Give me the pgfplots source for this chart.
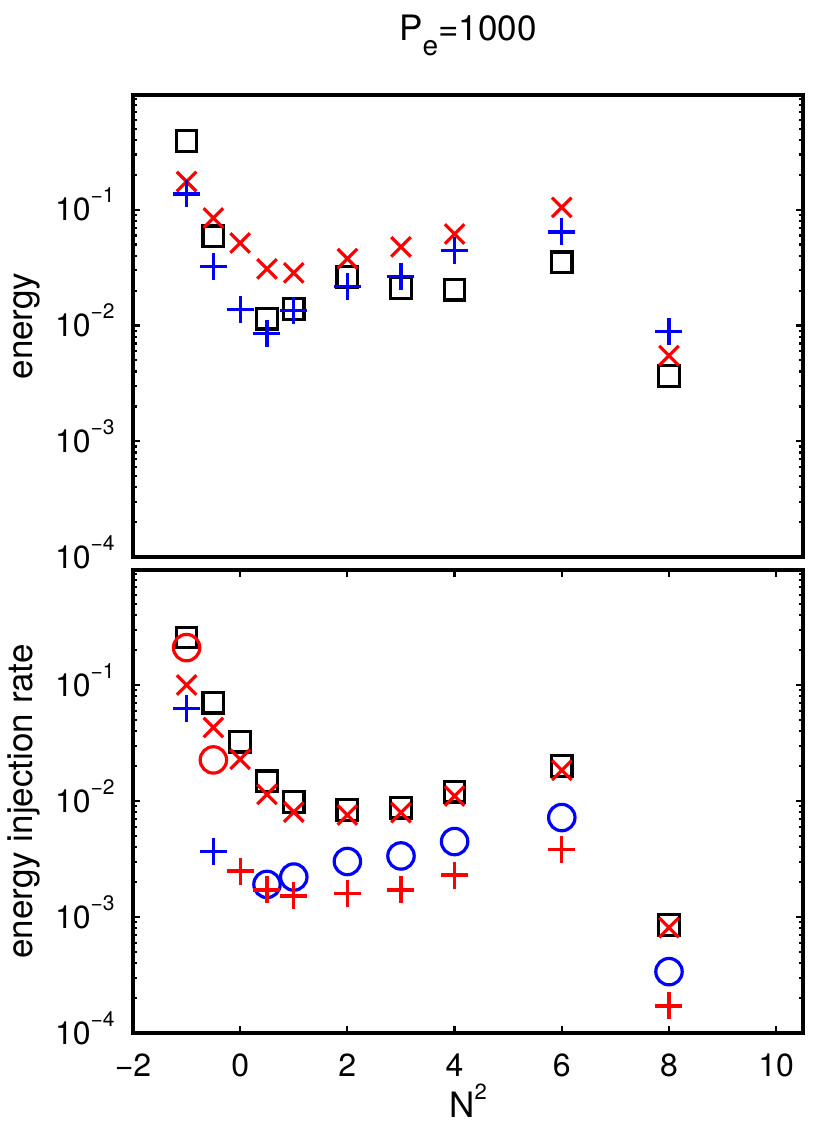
\documentclass[border=0pt]{standalone}
\usepackage{pgfplots}
\pgfplotsset{compat=1.18}
\usepackage{fontspec}
\setmainfont{TeX Gyre Heros}
\newcommand{\tfont}{\fontsize{16}{16}\selectfont}
\newcommand{\lfont}{\fontsize{17.5}{17.5}\selectfont}
\newcommand{\sfont}{\fontsize{10.5}{10.5}\selectfont}
\newcommand{\tl}[1]{10\raisebox{9pt}{\sfont #1}}
\pgfplotsset{
  myaxisstyle/.style={
    width=335pt, scale only axis,
    xmin=-2, xmax=10.5,
    ymin=1e-4, ymax=0.98,
    ytick={1e-4,1e-3,1e-2,1e-1},
    yticklabels={\tl{−4},\tl{−3},\tl{−2},\tl{−1}},
    minor ytick={2e-4,3e-4,4e-4,5e-4,6e-4,7e-4,8e-4,9e-4,
                 2e-3,3e-3,4e-3,5e-3,6e-3,7e-3,8e-3,9e-3,
                 2e-2,3e-2,4e-2,5e-2,6e-2,7e-2,8e-2,9e-2,
                 0.2,0.3,0.4,0.5,0.6,0.7,0.8,0.9},
    tick align=inside,
    major tick length=3.5pt, minor tick length=2pt,
    every tick/.style={black, line width=1.1pt},
    axis line style={line width=1.6pt},
    yticklabel style={font=\tfont, anchor=base east, inner sep=0pt, xshift=-9pt, yshift=-5.6pt},
    xticklabel style={font=\tfont, anchor=base, inner sep=0pt, yshift=-21.5pt},
    ylabel style={font=\lfont, at={(axis description cs:-0.1493,0.5)}, anchor=base},
  },
  mksq/.style={only marks, mark=square, mark size=5.15pt, black, line width=1.6pt},
  mkrx/.style={only marks, mark=x, mark size=6.9pt, red, line width=1.6pt},
  mkbp/.style={only marks, mark=+, mark size=6.75pt, blue, line width=1.6pt},
  mkrp/.style={only marks, mark=+, mark size=6.75pt, red, line width=1.6pt},
  mkrc/.style={only marks, mark=o, mark size=6.6pt, red, line width=1.6pt},
  mkbc/.style={only marks, mark=o, mark size=6.6pt, blue, line width=1.6pt},
}
\begin{document}
\begin{tikzpicture}
\useasboundingbox (-66.5pt,-49.5pt) rectangle (342.5pt,516.5pt);
% top axis
\begin{semilogyaxis}[myaxisstyle,
  at={(0pt,238pt)}, anchor=south west,
  height=231pt,
  xtick=\empty,
  ylabel={energy},
  title={P\raisebox{-7.5pt}{\fontsize{14}{14}\selectfont e}=1000},
  title style={font=\lfont, at={(axis description cs:0.5,1)}, anchor=base, yshift=21pt},
]
\addplot[mksq] coordinates {(-1,0.394) (-0.5,0.0589) (0.5,0.01143) (1,0.01393) (2,0.0263) (3,0.0211) (4,0.0204) (6,0.0352) (8,0.00367)};
\addplot[mkrx] coordinates {(-1,0.175) (-0.5,0.0848) (0,0.0516) (0.5,0.0308) (1,0.0285) (2,0.0378) (3,0.0477) (4,0.0617) (6,0.1047) (8,0.0055)};
\addplot[mkbp] coordinates {(-1,0.137) (-0.5,0.0325) (0,0.0137) (0.5,0.0085) (1,0.01355) (2,0.0216) (3,0.0263) (4,0.0446) (6,0.0643) (8,0.00883)};
\end{semilogyaxis}
% bottom axis
\begin{semilogyaxis}[myaxisstyle,
  at={(0pt,0pt)}, anchor=south west,
  height=231.5pt,
  xtick={-2,0,2,4,6,8,10},
  xticklabels={−2,0,2,4,6,8,10},
  ylabel={energy injection rate},
  xlabel={N\raisebox{9pt}{\fontsize{11}{11}\selectfont 2}},
  xlabel style={font=\lfont, at={(axis description cs:0.5,0)}, anchor=base, yshift=-42pt},
]
\addplot[mksq] coordinates {(-1,0.257) (-0.5,0.0705) (0,0.0325) (0.5,0.0148) (1,0.0098) (2,0.00836) (3,0.00877) (4,0.01205) (6,0.02) (8,0.000853)};
\addplot[mkrx] coordinates {(-1,0.1) (-0.5,0.043) (0,0.0229) (0.5,0.0114) (1,0.00803) (2,0.00758) (3,0.00794) (4,0.01105) (6,0.0184) (8,0.00081)};
\addplot[mkbp] coordinates {(-1,0.063) (-0.5,0.00367)};
\addplot[mkrc] coordinates {(-1,0.21) (-0.5,0.0226)};
\addplot[mkbc] coordinates {(0.5,0.00191) (1,0.00221) (2,0.00301) (3,0.00336) (4,0.00447) (6,0.0072) (8,0.000338)};
\addplot[mkrp] coordinates {(0,0.00249) (0.5,0.00171) (1,0.00152) (2,0.0016) (3,0.00171) (4,0.0023) (6,0.00384) (8,0.000171)};
\end{semilogyaxis}
\end{tikzpicture}
\end{document}
